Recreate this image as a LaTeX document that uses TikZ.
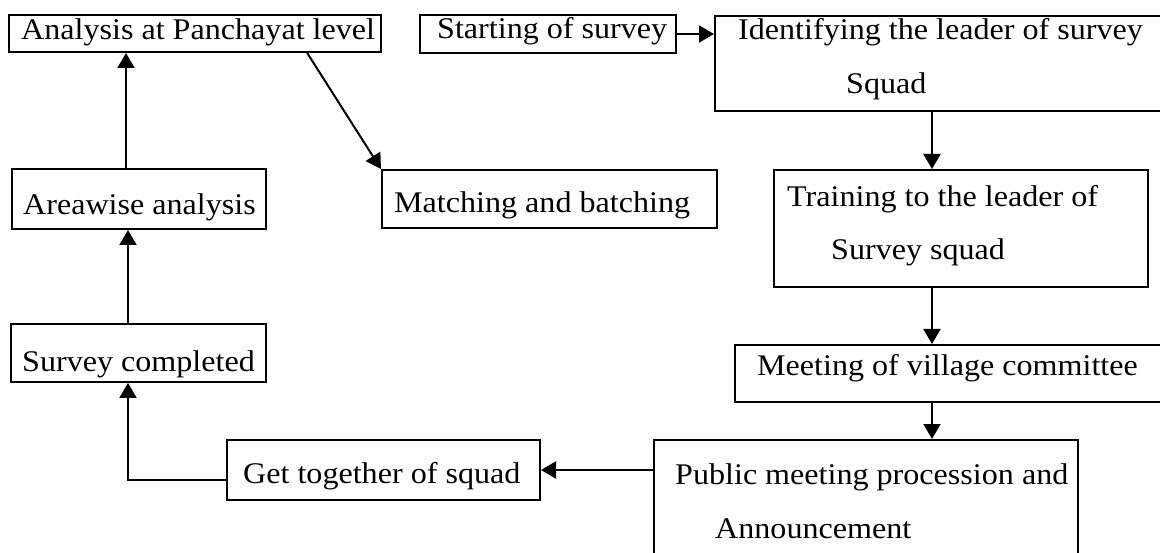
\documentclass[tikz,border=0pt]{standalone}
\usepackage{fontspec}
\setmainfont{Liberation Serif}[FakeStretch=1.07]
\usetikzlibrary{arrows.meta,calc}
\begin{document}
\begin{tikzpicture}[x=1pt,y=-1pt,
  box/.style={draw, line width=2pt, rectangle, inner sep=0pt},
  lbl/.style={anchor=base west, inner sep=0pt, font=\fontsize{30}{36}\selectfont},
  arr/.style={line width=2pt, -{Triangle[width=17pt,length=15pt]}},
]
\useasboundingbox (0,0) rectangle (1160,553);
\fill[white] (0,0) rectangle (1160,553);
\clip (0,0) rectangle (1160,553);

% process boxes
\node[box, minimum width=372pt, minimum height=37pt] (anal)  at (195,33.5)  {};
\node[box, minimum width=256pt, minimum height=38pt] (start) at (548,34)    {};
\node[box, minimum width=460pt, minimum height=95pt] (ident) at (945,63.5)  {};
\node[box, minimum width=374pt, minimum height=117pt] (train) at (961,228.5) {};
\node[box, minimum width=440pt, minimum height=57pt] (meet)  at (955,373.5) {};
\node[box, minimum width=424pt, minimum height=130pt] (pub)  at (866,505)   {};
\node[box, minimum width=313pt, minimum height=60pt] (get)   at (383.5,470) {};
\node[box, minimum width=255pt, minimum height=58pt] (surv)  at (138.5,353) {};
\node[box, minimum width=254pt, minimum height=60pt] (area)  at (139,199)   {};
\node[box, minimum width=335pt, minimum height=58pt] (match) at (549.5,199) {};

% box texts
\node[lbl] (tanal)   at (21,40)   {Analysis at Panchayat level};
\node[lbl] (tstart)  at (437,39)  {Starting of survey};
\node[lbl] (tident1) at (738,40)  {Identifying the leader of survey};
\node[lbl] (tident2) at (846,94)  {Squad};
\node[lbl] (ttrain1) at (787,207) {Training to the leader of};
\node[lbl] (ttrain2) at (831,260) {Survey squad};
\node[lbl] (tmeet)   at (757,376) {Meeting of village committee};
\node[lbl] (tpub1)   at (675,484) {Public meeting procession and};
\node[lbl] (tpub2)   at (715,538) {Announcement};
\node[lbl] (tget)    at (243,483) {Get together of squad};
\node[lbl] (tsurv)   at (22,372)  {Survey completed};
\node[lbl] (tarea)   at (23,215)  {Areawise analysis};
\node[lbl] (tmatch)  at (394,213) {Matching and batching};

% guide coordinates for the connector columns
\coordinate (rcol) at (932,0);
\coordinate (elbow) at (128,480);
\coordinate (lcol) at (126,0);

% connectors
\draw[arr] (start.east) -- (start.east -| ident.west);
\draw[arr] (ident.south -| rcol) -- (train.north -| rcol);
\draw[arr] (train.south -| rcol) -- (meet.north -| rcol);
\draw[arr] (meet.south -| rcol) -- (pub.north -| rcol);
\draw[arr] (get.east -| pub.west) -- (get.east);
\draw[arr] (get.west |- elbow) -- (elbow) -- (surv.south -| elbow);
\draw[arr] (surv.north -| elbow) -- (area.south -| elbow);
\draw[arr] (area.north -| lcol) -- (anal.south -| lcol);
\draw[arr] ($(anal.south west)!0.80!(anal.south east)$) -- (match.north west);
\end{tikzpicture}
\end{document}
